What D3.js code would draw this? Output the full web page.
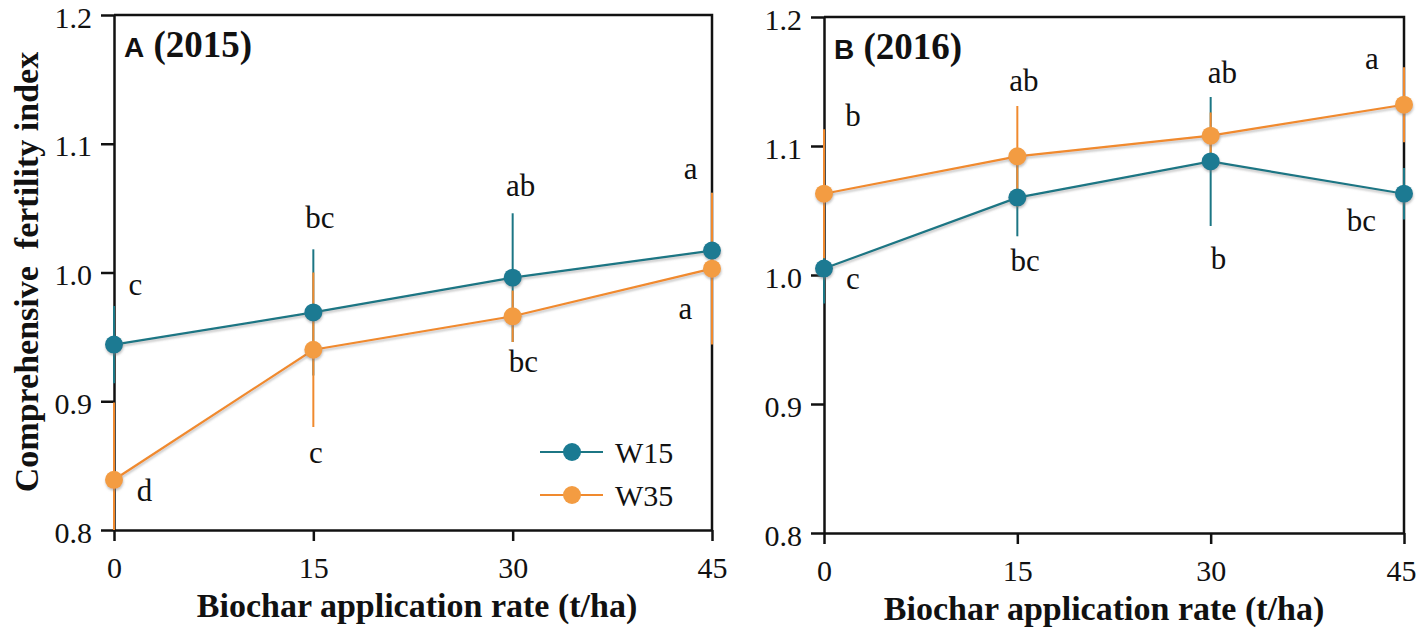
<!DOCTYPE html>
<html>
<head>
<meta charset="utf-8">
<script src="https://cdn.jsdelivr.net/npm/d3@7"></script>
<style>
  html, body { margin: 0; padding: 0; background: #fff; }
  svg { display: block; }
</style>
</head>
<body>
<svg id="chart"></svg>
<script>
// biochar rate (t/ha)
var RATES = [0, 15, 30, 45];
var Y_TICKS = [0.8, 0.9, 1.0, 1.1, 1.2];

// 2015
var W15_2015 = [0.944, 0.969, 0.996, 1.017];
var W15_2015_ERR = [0.030, 0.049, 0.050, 0.045];
var W35_2015 = [0.839, 0.940, 0.966, 1.003];
var W35_2015_ERR = [0.060, 0.060, 0.020, 0.059];
// 2016
var W15_2016 = [1.005, 1.060, 1.088, 1.063];
var W15_2016_ERR = [0.027, 0.030, 0.050, 0.020];
var W35_2016 = [1.063, 1.092, 1.108, 1.132];
var W35_2016_ERR = [0.050, 0.039, 0.018, 0.029];

// significance letters and where they sit (chart units)
var LET_W15_2015 = ["c", "bc", "ab", "a"];
var LET_W35_2015 = ["d", "c", "bc", "a"];
var LET_W15_2016 = ["c", "bc", "b", "bc"];
var LET_W35_2016 = ["b", "ab", "ab", "a"];
var LAB_X_W15_2015 = [1.6, 15.5, 30.6, 43.4];
var LAB_Y_W15_2015 = [0.990, 1.042, 1.067, 1.080];
var LAB_X_W35_2015 = [2.3, 15.2, 30.8, 43.0];
var LAB_Y_W35_2015 = [0.8295, 0.859, 0.930, 0.971];
var LAB_X_W15_2016 = [2.25, 15.6, 30.6, 41.7];
var LAB_Y_W15_2016 = [0.996, 1.010, 1.0116, 1.041];
var LAB_X_W35_2016 = [2.25, 15.5, 30.9, 42.5];
var LAB_Y_W35_2016 = [1.1225, 1.1496, 1.156, 1.1667];

var COLOR = {W15: {line: "#1c7684", dot: "#1a7a92"}, W35: {line: "#f08a2e", dot: "#f39c42"}};
var SERIF = "'Liberation Serif', 'Times New Roman', serif";
var SANS = "'Liberation Sans', Arial, sans-serif";

var W = 1417, H = 628;
var svg = d3.select("#chart").attr("width", W).attr("height", H);

var defs = svg.append("defs");
var shadow = defs.append("filter").attr("id", "shade")
    .attr("x", "-20%").attr("y", "-20%").attr("width", "140%").attr("height", "160%");
shadow.append("feDropShadow").attr("dx", 0.5).attr("dy", 2).attr("stdDeviation", 1)
    .attr("flood-color", "#777").attr("flood-opacity", 0.45);

// all text goes through this so the font is set on the element itself
function txt(sel, size, bold) {
    return sel.style("font-family", SERIF).style("font-size", size + "px")
        .style("font-weight", bold ? "bold" : "normal").style("fill", "#111");
}

function series(vals, errs, letters, lx, ly) {
    return RATES.map(function(r, i) {
        return {x: r, y: vals[i], e: errs[i], t: letters[i], lx: lx[i], ly: ly[i]};
    });
}

function drawPanel(p) {
    var g = svg.append("g");
    var x = d3.scaleLinear().domain([0, 45]).range([p.left, p.right]);
    var y = d3.scaleLinear().domain([0.8, 1.2]).range([p.bottom, p.top]).clamp(true);

    // frame: top and right are plain lines
    g.append("path")
        .attr("d", "M" + p.left + "," + p.top + "H" + p.right + "V" + p.bottom)
        .attr("fill", "none").attr("stroke", "#111").attr("stroke-width", 2.5);

    var yAxis = g.append("g").attr("transform", "translate(" + p.left + ",0)")
        .call(d3.axisLeft(y).tickValues(Y_TICKS).tickFormat(d3.format(".1f"))
            .tickSize(13).tickSizeOuter(0).tickPadding(9));
    var xAxis = g.append("g").attr("transform", "translate(0," + p.bottom + ")")
        .call(d3.axisBottom(x).tickValues(RATES).tickSize(11).tickSizeOuter(0).tickPadding(16));

    [yAxis, xAxis].forEach(function(a) {
        a.select(".domain").attr("stroke", "#111").attr("stroke-width", 2.5);
        a.selectAll(".tick line").attr("stroke", "#111").attr("stroke-width", 2.5);
        txt(a.selectAll("text"), 30, false);
    });
    yAxis.selectAll("text").attr("dy", "0.4em");

    // keep x tick labels inside the page
    xAxis.selectAll("text").each(function() {
        var b = this.getBBox(), tx = x(d3.select(this.parentNode).datum());
        if (tx + b.x + b.width > W - 1) d3.select(this).attr("dx", (W - 1) - (tx + b.x + b.width));
    });

    // panel tag
    var tag = g.append("text").attr("x", p.left + 10).attr("y", p.top + 42);
    tag.append("tspan").style("font-family", SANS)
        .style("font-weight", "bold").style("font-size", "28px").style("fill", "#111").text(p.tag);
    txt(tag.append("tspan"), 37, true).text(" " + p.year);

    var sets = [{k: "W15", d: p.w15}, {k: "W35", d: p.w35}];

    // error bars (W35 ends up on top)
    sets.forEach(function(s) {
        g.append("g").selectAll("line").data(s.d).join("line")
            .attr("x1", function(d) { return x(d.x); })
            .attr("x2", function(d) { return x(d.x); })
            .attr("y1", function(d) { return y(d.y - d.e); })
            .attr("y2", function(d) { return y(d.y + d.e); })
            .attr("stroke", COLOR[s.k].line).attr("stroke-width", 2);
    });

    var line = d3.line().x(function(d) { return x(d.x); }).y(function(d) { return y(d.y); });
    sets.forEach(function(s) {
        g.append("path").datum(s.d).attr("d", line)
            .attr("fill", "none").attr("stroke", COLOR[s.k].line).attr("stroke-width", 2.2)
            .attr("filter", "url(#shade)");
    });
    sets.forEach(function(s) {
        g.append("g").attr("filter", "url(#shade)").selectAll("circle").data(s.d).join("circle")
            .attr("cx", function(d) { return x(d.x); })
            .attr("cy", function(d) { return y(d.y); })
            .attr("r", 9).attr("fill", COLOR[s.k].dot);
    });

    sets.forEach(function(s) {
        txt(g.append("g").selectAll("text").data(s.d).join("text"), 31, false)
            .attr("x", function(d) { return x(d.lx); })
            .attr("y", function(d) { return y(d.ly); })
            .attr("dy", "0.3em").attr("text-anchor", "middle")
            .text(function(d) { return d.t; });
    });

    txt(g.append("text"), 34, true).attr("x", p.xLabelX).attr("y", p.bottom + 87)
        .attr("text-anchor", "middle")
        .text("Biochar application rate (t/ha)");

    return {x: x, y: y, g: g};
}

var left = drawPanel({
    left: 114, right: 712, top: 15, bottom: 530, tag: "A", year: "(2015)", xLabelX: 417,
    w15: series(W15_2015, W15_2015_ERR, LET_W15_2015, LAB_X_W15_2015, LAB_Y_W15_2015),
    w35: series(W35_2015, W35_2015_ERR, LET_W35_2015, LAB_X_W35_2015, LAB_Y_W35_2015)
});
drawPanel({
    left: 824, right: 1404, top: 17, bottom: 533, tag: "B", year: "(2016)", xLabelX: 1104,
    w15: series(W15_2016, W15_2016_ERR, LET_W15_2016, LAB_X_W15_2016, LAB_Y_W15_2016),
    w35: series(W35_2016, W35_2016_ERR, LET_W35_2016, LAB_X_W35_2016, LAB_Y_W35_2016)
});

// y title
txt(svg.append("text"), 34, true)
    .attr("transform", "translate(38,272) rotate(-90)")
    .attr("text-anchor", "middle")
    .style("white-space", "pre")
    .text("Comprehensive  fertility index");

// legend in panel A
var legend = left.g.append("g").attr("transform", "translate(540,452)");
["W15", "W35"].forEach(function(k, i) {
    var row = legend.append("g").attr("transform", "translate(0," + (i * 43) + ")");
    row.append("line").attr("x1", 0).attr("x2", 63).attr("y1", 0).attr("y2", 0)
        .attr("stroke", COLOR[k].line).attr("stroke-width", 2.2);
    row.append("circle").attr("cx", 32).attr("cy", 0).attr("r", 9).attr("fill", COLOR[k].dot);
    txt(row.append("text"), 30, false).attr("x", 75).attr("y", 0).attr("dy", "0.35em").text(k);
});
</script>
</body>
</html>
